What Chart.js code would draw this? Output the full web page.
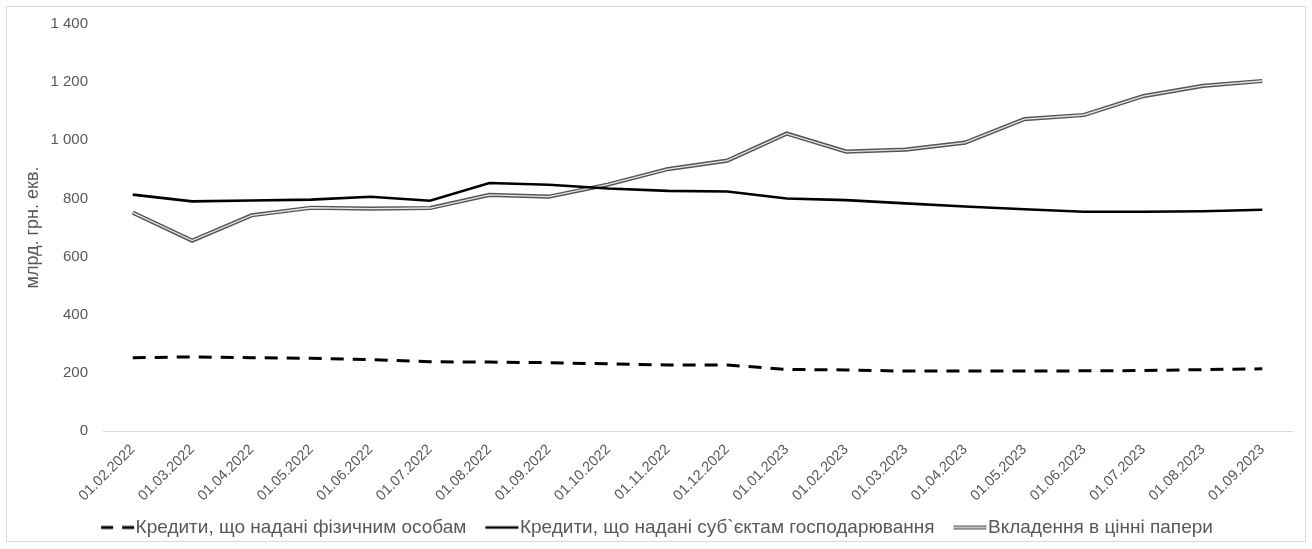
<!DOCTYPE html>
<html>
<head>
<meta charset="utf-8">
<script src="https://cdn.jsdelivr.net/npm/chart.js@4.4.0/dist/chart.umd.min.js"></script>
<style>
  body { margin: 0; background: #fff; }
  #frame { position: absolute; left: 6px; top: 6px; width: 1298px; height: 534px; border: 1px solid #d9d9d9; pointer-events: none; }
  #box { position: absolute; left: 7px; top: 7px; width: 1298px; height: 542px; }
</style>
</head>
<body>
<div id="box"><canvas id="myLineChart"></canvas></div>
<div id="frame"></div>
<script>
// подписи оси X
var dates = ["01.02.2022", "01.03.2022", "01.04.2022", "01.05.2022", "01.06.2022", "01.07.2022",
  "01.08.2022", "01.09.2022", "01.10.2022", "01.11.2022", "01.12.2022", "01.01.2023",
  "01.02.2023", "01.03.2023", "01.04.2023", "01.05.2023", "01.06.2023", "01.07.2023",
  "01.08.2023", "01.09.2023"];
// Кредити, що надані фізичним особам
var creditsPersons = [252, 255, 252, 250, 246, 238, 237, 235, 231, 227, 227, 212,
  210, 206, 206, 206, 207, 208, 211, 214];
// Кредити, що надані суб`єктам господарювання
var creditsBusiness = [813, 790, 793, 796, 806, 792, 853, 847, 834, 826, 824, 800,
  794, 783, 772, 763, 754, 754, 756, 761];
// Вкладення в цінні папери
var securities = [751, 655, 742, 768, 765, 767, 812, 806, 848, 901, 930, 1023,
  961, 968, 992, 1073, 1087, 1152, 1187, 1204];
// деления оси Y
var yTicks = [0, 200, 400, 600, 800, 1000, 1200, 1400];

var textColor = "#595959";
var doubleOuter = "#555555";
var doubleInner = "#e6e6e6";
Chart.defaults.font.family = "'Liberation Sans', Arial, sans-serif";

// маленькие картинки линий для легенды (линия сдвинута вправо, к тексту)
function legendLine(kind) {
  var c = document.createElement("canvas");
  c.width = 52;
  c.height = 8;
  var g = c.getContext("2d");
  g.beginPath();
  g.moveTo(16, 4);
  g.lineTo(49, 4);
  if (kind === "dash") {
    g.setLineDash([12, 9]);
    g.lineWidth = 3;
    g.strokeStyle = "#000";
    g.stroke();
  } else if (kind === "solid") {
    g.lineWidth = 2.5;
    g.strokeStyle = "#000";
    g.stroke();
  } else {
    g.lineWidth = 4.2;
    g.strokeStyle = doubleOuter;
    g.stroke();
    g.lineWidth = 1.3;
    g.strokeStyle = doubleInner;
    g.stroke();
  }
  return c;
}
var legendImages = { 0: legendLine("dash"), 1: legendLine("solid"), 3: legendLine("double") };

var ctx = document.getElementById("myLineChart");

var myLineChart = new Chart(ctx, {
  type: "line",
  data: {
    labels: dates,
    datasets: [
      {
        label: "Кредити, що надані фізичним особам",
        data: creditsPersons,
        borderColor: "#000",
        borderWidth: 3,
        borderDash: [13, 9],
        pointRadius: 0,
        order: 0
      },
      {
        label: "Кредити, що надані суб`єктам господарювання",
        data: creditsBusiness,
        borderColor: "#000",
        borderWidth: 2.6,
        pointRadius: 0,
        order: 0
      },
      {
        // светлая середина двойной линии
        label: "inner",
        data: securities,
        borderColor: doubleInner,
        borderWidth: 1.3,
        pointRadius: 0,
        order: 1
      },
      {
        label: "Вкладення в цінні папери",
        data: securities,
        borderColor: doubleOuter,
        borderWidth: 4.2,
        pointRadius: 0,
        order: 2
      }
    ]
  },
  options: {
    responsive: true,
    maintainAspectRatio: false,
    animation: false,
    layout: { padding: { left: 10, right: 13, top: 17, bottom: 2 } },
    plugins: {
      tooltip: { enabled: false },
      legend: {
        position: "bottom",
        labels: {
          usePointStyle: true,
          pointStyleWidth: 30,
          padding: 14,
          color: textColor,
          font: { size: 19 },
          generateLabels: function (chart) {
            return [0, 1, 3].map(function (i) {
              return {
                text: chart.data.datasets[i].label,
                datasetIndex: i,
                pointStyle: legendImages[i],
                fontColor: textColor,
                lineWidth: 0,
                strokeStyle: "transparent",
                fillStyle: "transparent",
                hidden: false
              };
            });
          }
        }
      }
    },
    scales: {
      x: {
        offset: true,
        grid: { display: false, drawTicks: false },
        border: { display: true, color: "#d9d9d9", width: 1 },
        // повернутые подписи не должны сдвигать область графика
        afterFit: function (scale) {
          scale.paddingLeft = 0;
          scale.paddingRight = 0;
          scale.height = 73;
        },
        ticks: {
          autoSkip: false,
          maxRotation: 45,
          minRotation: 45,
          padding: 10,
          color: textColor,
          font: { size: 14.5 }
        }
      },
      y: {
        min: 0,
        max: 1400,
        afterBuildTicks: function (axis) {
          axis.ticks = yTicks.map(function (v) { return { value: v }; });
        },
        afterFit: function (scale) {
          scale.width = 86;
          scale.paddingTop = 9;
          scale.paddingBottom = 0;
        },
        grid: { display: false, drawTicks: false },
        border: { display: false },
        ticks: {
          padding: 15,
          color: textColor,
          font: { size: 15 },
          callback: function (v) {
            return String(v).replace(/\B(?=(\d{3})+(?!\d))/g, " ");
          }
        },
        title: {
          display: true,
          text: "млрд. грн. екв.",
          color: textColor,
          font: { size: 18 },
          padding: { top: 5, bottom: 8 }
        }
      }
    }
  }
});
</script>
</body>
</html>
